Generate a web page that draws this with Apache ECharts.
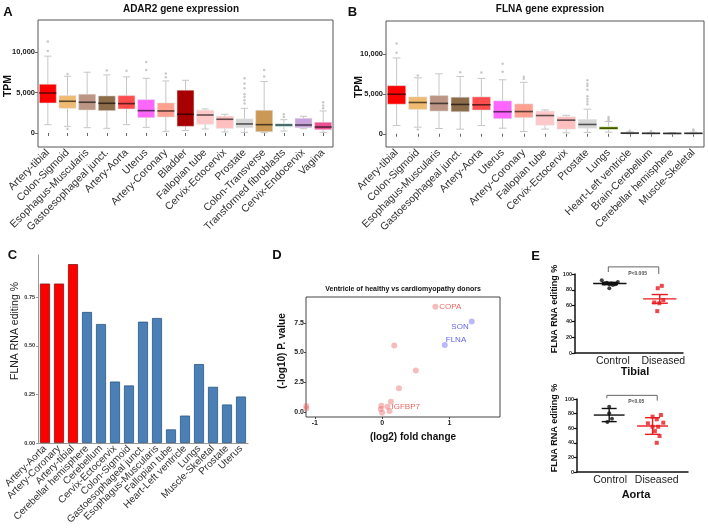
<!DOCTYPE html>
<html><head><meta charset="utf-8">
<script src="https://cdn.jsdelivr.net/npm/echarts@6/dist/echarts.min.js"></script>
<style>html,body{margin:0;padding:0;background:#fff}#c{width:708px;height:532px}</style>
</head><body><div id="c"></div>
<script>
// ---------- DATA ----------
const catsA = ['Artery-tibial','Colon-Sigmoid','Esophagus-Muscularis','Gastoesophageal junct.','Artery-Aorta','Uterus','Artery-Coronary','Bladder','Fallopian tube','Cervix-Ectocervix','Prostate','Colon-Transverse','Transformed fibroblasts','Cervix-Endocervix','Vagina'];
// [min, q1, median, q3, max]
const boxA = [
  [1030,3720,4960,6040,9520],
  [830,3060,3930,4630,7030],
  [660,2850,3810,4800,7530],
  [580,2770,3680,4590,7200],
  [1030,2980,3640,4630,6950],
  [700,1900,2770,4130,6780],
  [200,1980,2730,3720,6450],
  [290,830,2320,5300,6530],
  [500,1080,2230,2810,2980],
  [120,580,1700,2070,2320],
  [80,660,1120,1740,3060],
  [40,160,1030,2810,6370],
  [250,780,990,1150,1650],
  [530,660,990,1820,2070],
  [80,410,740,1330,2730]
];
const outA = [[0,11330],[0,10170],[1,7320],[1,530],[3,7730],[4,7700],[5,7800],[5,8800],[6,7360],[6,6900],
  [10,6780],[10,6120],[10,5540],[10,4800],[10,4470],[10,4050],[10,3640],[11,7820],[11,6990],[12,2320],[12,1990],[14,3060],[14,3400],[14,3800]];

const catsB = ['Artery-tibial','Colon-Sigmoid','Esophagus-Muscularis','Gastoesophageal junct.','Artery-Aorta','Uterus','Artery-Coronary','Fallopian tube','Cervix-Ectocervix','Prostate','Lungs','Heart-Left ventricle','Brain-Cerebellum','Cerebellar hemisphere','Muscle-Skeletal'];
const boxB = [
  [1030,3720,4960,6040,9520],
  [830,3060,3930,4630,7030],
  [660,2850,3810,4800,7530],
  [580,2770,3680,4590,7200],
  [1030,2980,3640,4630,6950],
  [700,1900,2770,4130,6780],
  [290,2040,2790,3750,6460],
  [590,1080,2290,2840,3000],
  [120,590,1710,2125,2320],
  [170,710,1170,1790,3090],
  [210,540,710,875,1540],
  [0,40,80,130,250],
  [0,30,60,90,180],
  [0,20,50,80,150],
  [0,30,60,100,200]
];
const outB = [[0,11330],[0,10170],[1,7320],[1,530],[3,7730],[4,7700],[5,7800],[5,8800],[6,7150],[6,6900],
  [9,6710],[9,6290],[9,6000],[9,5540],[9,4710],[9,4375],[9,4040],[9,3710],[10,1700],[10,1900],[10,2100],[11,380],[12,350],[14,550],[14,400]];

const catsC = ['Artery-Aorta','Artery-Coronary','Artery-tibial','Cerebellar hemisphere','Cerebellum','Cervix-Ectocervix','Colon-Sigmoid','Gastoesophageal junct.','Esophagus-Muscularis','Fallopian tube','Heart-Left ventricle','Lungs','Muscle-Skeletal','Prostate','Uterus'];
const valsC = [0.82,0.82,0.92,0.674,0.612,0.316,0.296,0.624,0.643,0.07,0.141,0.406,0.289,0.198,0.239];
const arteryC = [true,true,true,false,false,false,false,false,false,false,false,false,false,false,false];

const dRed = [[0.79,8.86],[0.18,5.6],[0.50,3.5],[0.25,2.0],[0.13,0.86],[-0.01,0.52],[-0.02,0.25],[0.0,-0.06],[0.11,0.08],[0.08,0.45],[-1.125,0.5],[-1.125,0.3]];
const dRedNames = ['COPA','','','','','','','','','IGFBP7','',''];
const dBlue = [[1.33,7.6],[0.93,5.64]];
const dBlueNames = ['SON','FLNA'];

const eGroups = ['Control','Diseased'];
const tibCtrl = [[0.78,92],[0.88,89],[0.83,88],[0.93,87],[0.97,88],[1.05,87],[1.10,90],[0.93,82],[1.0,86]];
const tibDis = [[1.97,85],[1.89,82],[2.0,67],[1.82,64],[1.92,63],[1.88,53]];
const tibStats = [[0.94,88,89.5,86.5],[1.93,68.5,74,63]];   // x, mean, upper, lower
const tibBracket = [[0.91,102.5],[0.91,109],[1.91,109],[1.91,100]];
const tibP = 'P<0.005';
const aorCtrl = [[0.98,89.5],[0.98,80.4],[1.04,73],[0.94,68.5]];
const aorDis = [[1.91,75.8],[2.09,78],[2.0,72.2],[1.81,66.7],[2.14,67.5],[1.91,62],[2.03,62],[1.96,56],[2.06,49.3],[2.0,40]];
const aorStats = [[0.98,78,87,69],[1.91,63,74.4,51.6]];
const aorBracket = [[0.93,101],[0.93,105],[2.01,105],[2.01,97.7]];
const aorP = 'P<0.05';

// ---------- STYLE ----------
const FONT = '"Liberation Sans", Arial, sans-serif';
const colA = ['#ff0000','#f0bb70','#bc9585','#8d6c4a','#ff4c4c','#ff66ff','#ffa090','#a80000','#ffc9c9','#ffbfbf','#d6d6d6','#cc9955','#8fd4d0','#c8a2dc','#ee4f93'];
const colB = ['#ff0000','#f0bb70','#bc9585','#8d6c4a','#ff4c4c','#ff66ff','#ffa090','#ffc9c9','#ffbfbf','#d6d6d6','#99cc00','#777777','#777777','#777777','#777777'];

function darker(hex, f){
  const n = parseInt(hex.slice(1),16);
  const r = Math.round(((n>>16)&255)*f), g = Math.round(((n>>8)&255)*f), b = Math.round((n&255)*f);
  return 'rgb('+r+','+g+','+b+')';
}
function boxRender(colors){
  return function(params, api){
    const i = api.value(0);
    const x = api.coord([i, 0])[0];
    const bw = api.size([1,0])[0]*0.86;
    const y = [1,2,3,4,5].map(k => api.coord([i, api.value(k)])[1]);
    const c = colors[i], wc = '#c6c6c6', cap = bw*0.42;
    return {type:'group', children:[
      {type:'line', shape:{x1:x,y1:y[4],x2:x,y2:y[3]}, style:{stroke:wc,lineWidth:1}},
      {type:'line', shape:{x1:x,y1:y[1],x2:x,y2:y[0]}, style:{stroke:wc,lineWidth:1}},
      {type:'line', shape:{x1:x-cap/2,y1:y[4],x2:x+cap/2,y2:y[4]}, style:{stroke:wc,lineWidth:1}},
      {type:'line', shape:{x1:x-cap/2,y1:y[0],x2:x+cap/2,y2:y[0]}, style:{stroke:wc,lineWidth:1}},
      {type:'rect', shape:{x:x-bw/2,y:y[3],width:bw,height:Math.max(y[1]-y[3],1)}, style:{fill:c,stroke:'#dddddd',lineWidth:0.5}},
      {type:'line', shape:{x1:x-bw/2,y1:y[2],x2:x+bw/2,y2:y[2]}, style:{stroke:darker(c,0.38),lineWidth:1.6}}
    ]};
  };
}
function statRender(color){
  return function(params, api){
    const xv = api.value(0), m = api.value(1), hi = api.value(2), lo = api.value(3);
    const u = api.size([1,0])[0];
    const pm = api.coord([xv, m]), ph = api.coord([xv, hi]), pl = api.coord([xv, lo]);
    const w = u*0.33, e = u*0.16;
    const st = {stroke:color, lineWidth:1.4};
    return {type:'group', children:[
      {type:'line', shape:{x1:pm[0]-w,y1:pm[1],x2:pm[0]+w,y2:pm[1]}, style:st},
      {type:'line', shape:{x1:ph[0],y1:ph[1],x2:pl[0],y2:pl[1]}, style:st},
      {type:'line', shape:{x1:ph[0]-e,y1:ph[1],x2:ph[0]+e,y2:ph[1]}, style:st},
      {type:'line', shape:{x1:pl[0]-e,y1:pl[1],x2:pl[0]+e,y2:pl[1]}, style:st}
    ]};
  };
}
function fmtK(v){ return String(v).replace(/\B(?=(\d{3})+(?!\d))/g, ','); }

const tpmTicks = [0,5000,10000];
function boxXAxis(gi, cats){
  return {type:'category', gridIndex:gi, data:cats, axisLine:{show:false},
    axisTick:{show:true, alignWithLabel:true, length:3, lineStyle:{color:'#666'}},
    axisLabel:{interval:0, rotate:45, fontSize:10.5, color:'#333', margin:4, fontFamily:FONT}};
}
function boxYAxis(gi, mn, mx){
  return {type:'value', gridIndex:gi, min:mn, max:mx, axisLine:{show:false, onZero:false}, splitLine:{show:false},
    axisTick:{show:true, length:3, customValues:tpmTicks, lineStyle:{color:'#666'}},
    axisLabel:{customValues:tpmTicks, formatter:fmtK, fontSize:7.5, fontWeight:'bold', color:'#222', margin:3, fontFamily:FONT}};
}
function eXAxis(gi, mn, mx){
  return {type:'value', gridIndex:gi, min:mn, max:mx, splitLine:{show:false},
    axisLine:{show:true, onZero:false, lineStyle:{color:'#111', width:1.5}},
    axisTick:{show:false, customValues:[1,2]},
    axisLabel:{customValues:[1,2], formatter:v => eGroups[Math.round(v)-1] || '', fontSize:10.5, color:'#222', margin:3, fontFamily:FONT}};
}
function eYAxis(gi){
  return {type:'value', gridIndex:gi, min:0, max:100, interval:20, splitLine:{show:false},
    axisLine:{show:true, onZero:false, lineStyle:{color:'#111', width:1.5}},
    axisTick:{show:true, length:3, lineStyle:{color:'#111', width:1.2}},
    axisLabel:{fontSize:5.5, fontWeight:'bold', color:'#222', margin:3, fontFamily:FONT}};
}
function txt(t, x, y, size, weight, opts){
  opts = opts || {};
  return {type:'text', x:x, y:y, rotation:opts.rot || 0, silent:true,
    style:{text:t, fontSize:size, fontWeight:weight, fontFamily:FONT, fill:opts.fill || '#111', align:'center', verticalAlign:'middle'}};
}

const option = {
  animation:false,
  backgroundColor:'#fff',
  textStyle:{fontFamily:FONT},
  grid:[
    {left:38, top:20, width:295, height:127, show:true, borderColor:'#555', borderWidth:1},
    {left:386, top:21, width:318, height:126, show:true, borderColor:'#555', borderWidth:1},
    {left:38, top:255, width:210, height:188},
    {left:306, top:297, width:194, height:120, show:true, borderColor:'#444', borderWidth:1},
    {left:575, top:274, width:108, height:79},
    {left:577, top:399, width:111, height:73}
  ],
  xAxis:[
    boxXAxis(0, catsA),
    boxXAxis(1, catsB),
    {type:'category', gridIndex:2, data:catsC, axisLine:{show:true, lineStyle:{color:'#999'}}, axisTick:{show:false},
      axisLabel:{interval:0, rotate:45, fontSize:10, color:'#333', margin:4, fontFamily:FONT}},
    {type:'value', gridIndex:3, min:-1.13, max:1.75, splitLine:{show:false}, axisLine:{show:false, onZero:false},
      axisTick:{show:true, length:2, customValues:[-1,0,1], lineStyle:{color:'#444'}},
      axisLabel:{customValues:[-1,0,1], fontSize:7, fontWeight:'bold', color:'#222', margin:3, fontFamily:FONT}},
    eXAxis(4, 0.25, 2.39),
    eXAxis(5, 0.29, 2.67)
  ],
  yAxis:[
    boxYAxis(0, -1735, 14000),
    boxYAxis(1, -1660, 14160),
    {type:'value', gridIndex:2, min:0, max:0.967, splitLine:{show:false},
      axisLine:{show:true, onZero:false, lineStyle:{color:'#999'}},
      axisTick:{show:true, length:2, customValues:[0,0.25,0.5,0.75], lineStyle:{color:'#999'}},
      axisLabel:{customValues:[0,0.25,0.5,0.75], formatter:v => v.toFixed(2), fontSize:5.5, fontWeight:'bold', color:'#333', margin:3, fontFamily:FONT}},
    {type:'value', gridIndex:3, min:-0.42, max:9.67, splitLine:{show:false}, axisLine:{show:false, onZero:false},
      axisTick:{show:true, length:2, customValues:[0,2.5,5,7.5], lineStyle:{color:'#444'}},
      axisLabel:{customValues:[0,2.5,5,7.5], formatter:v => v.toFixed(1), fontSize:7, fontWeight:'bold', color:'#222', margin:2, fontFamily:FONT}},
    eYAxis(4),
    eYAxis(5)
  ],
  series:[
    {type:'custom', xAxisIndex:0, yAxisIndex:0, renderItem:boxRender(colA), encode:{x:0, y:[1,2,3,4,5]},
      data:boxA.map((d,i)=>[i].concat(d)), z:2},
    {type:'scatter', xAxisIndex:0, yAxisIndex:0, data:outA, symbolSize:2.5, itemStyle:{color:'#bbbbbb'}, z:3},
    {type:'custom', xAxisIndex:1, yAxisIndex:1, renderItem:boxRender(colB), encode:{x:0, y:[1,2,3,4,5]},
      data:boxB.map((d,i)=>[i].concat(d)), z:2},
    {type:'scatter', xAxisIndex:1, yAxisIndex:1, data:outB, symbolSize:2.5, itemStyle:{color:'#bbbbbb'}, z:3},
    {type:'bar', xAxisIndex:2, yAxisIndex:2, barWidth:10,
      data:valsC.map((v,i)=>({value:v, itemStyle: arteryC[i] ? {color:'#ff0000', borderColor:'#8a1010', borderWidth:0.8} : {color:'#4a80b6', borderColor:'#2c5580', borderWidth:0.8}}))},
    {type:'scatter', xAxisIndex:3, yAxisIndex:3, symbolSize:6,
      itemStyle:{color:'rgba(236,90,90,0.5)'},
      data:dRed.map((p,i)=>({value:p, label:{show:!!dRedNames[i], formatter:dRedNames[i], position:'right', distance:1, color:'#e8403a', fontSize:8, fontFamily:FONT}}))},
    {type:'scatter', xAxisIndex:3, yAxisIndex:3, symbolSize:6,
      itemStyle:{color:'rgba(110,110,245,0.6)'},
      data:dBlue.map((p,i)=>({value:p, label:{show:true, formatter:dBlueNames[i], position: i===0 ? 'left' : 'right', offset: i===0 ? [2,5] : [-4,-5], distance:2, color:'#3a3ae0', fontSize:8, fontFamily:FONT}}))},
    // E tibial
    {type:'scatter', xAxisIndex:4, yAxisIndex:4, data:tibCtrl, symbolSize:4, itemStyle:{color:'#111'}},
    {type:'scatter', xAxisIndex:4, yAxisIndex:4, data:tibDis, symbol:'rect', symbolSize:4, itemStyle:{color:'#e8191f'}},
    {type:'custom', xAxisIndex:4, yAxisIndex:4, renderItem:statRender('#111'), data:[tibStats[0]], encode:{x:0,y:[1,2,3]}},
    {type:'custom', xAxisIndex:4, yAxisIndex:4, renderItem:statRender('#e8191f'), data:[tibStats[1]], encode:{x:0,y:[1,2,3]}},
    {type:'line', xAxisIndex:4, yAxisIndex:4, data:tibBracket, symbol:'none', clip:false, lineStyle:{color:'#666', width:1}},
    {type:'scatter', xAxisIndex:4, yAxisIndex:4, clip:false, symbolSize:0, data:[[1.49,100]],
      label:{show:true, position:'inside', formatter:tibP, fontSize:5, fontWeight:'bold', color:'#222', fontFamily:FONT}},
    // E aorta
    {type:'scatter', xAxisIndex:5, yAxisIndex:5, data:aorCtrl, symbolSize:4, itemStyle:{color:'#111'}},
    {type:'scatter', xAxisIndex:5, yAxisIndex:5, data:aorDis, symbol:'rect', symbolSize:4, itemStyle:{color:'#e8191f'}},
    {type:'custom', xAxisIndex:5, yAxisIndex:5, renderItem:statRender('#111'), data:[aorStats[0]], encode:{x:0,y:[1,2,3]}},
    {type:'custom', xAxisIndex:5, yAxisIndex:5, renderItem:statRender('#e8191f'), data:[aorStats[1]], encode:{x:0,y:[1,2,3]}},
    {type:'line', xAxisIndex:5, yAxisIndex:5, data:aorBracket, symbol:'none', clip:false, lineStyle:{color:'#666', width:1}},
    {type:'scatter', xAxisIndex:5, yAxisIndex:5, clip:false, symbolSize:0, data:[[1.56,96.3]],
      label:{show:true, position:'inside', formatter:aorP, fontSize:5, fontWeight:'bold', color:'#222', fontFamily:FONT}}
  ],
  graphic:{elements:[
    txt('A', 8, 12.5, 13, 'bold'),
    txt('B', 352.5, 12.5, 13, 'bold'),
    txt('C', 12.5, 255, 13, 'bold'),
    txt('D', 277, 255, 13, 'bold'),
    txt('E', 535.5, 256, 13, 'bold'),
    txt('ADAR2 gene expression', 181, 9, 10, 'bold'),
    txt('FLNA gene expression', 550, 9, 10, 'bold'),
    txt('TPM', 8, 86, 10.5, 'bold', {rot:Math.PI/2}),
    txt('TPM', 359, 87, 10.5, 'bold', {rot:Math.PI/2}),
    txt('FLNA RNA editing %', 15, 331, 10.5, 'normal', {rot:Math.PI/2, fill:'#222'}),
    txt('Ventricle of healthy vs cardiomyopathy donors', 403, 289, 7, 'bold'),
    txt('(-log10) P. value', 282, 351, 10, 'bold', {rot:Math.PI/2}),
    txt('(log2) fold change', 413, 437, 10, 'bold'),
    txt('FLNA RNA editing %', 555, 309, 9, 'bold', {rot:Math.PI/2}),
    txt('FLNA RNA editing %', 555, 428, 9, 'bold', {rot:Math.PI/2}),
    txt('Tibial', 635, 372, 11, 'bold'),
    txt('Aorta', 636, 495, 11, 'bold')
  ]}
};
const chart = echarts.init(document.getElementById('c'), null, {renderer:'canvas'});
chart.setOption(option);
</script></body></html>
